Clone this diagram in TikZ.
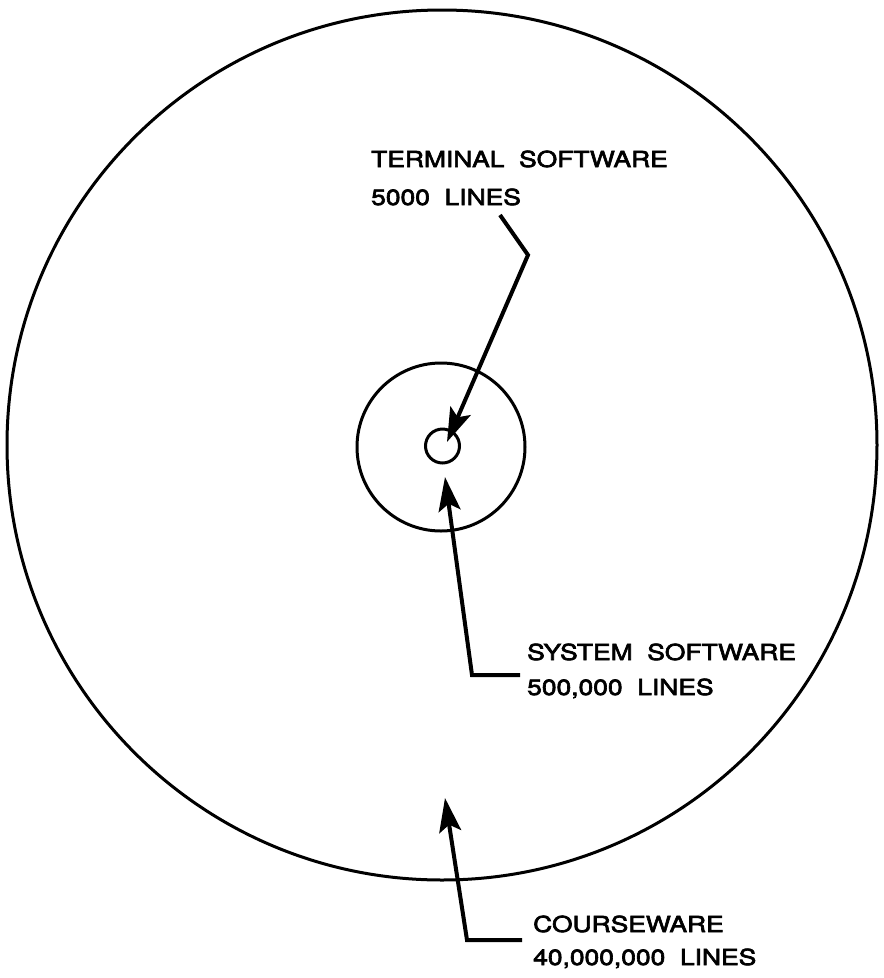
\documentclass[tikz,border=0pt]{standalone}
\usepackage{fontspec}
\setmainfont{TeX Gyre Heros}[FakeStretch=1.2, FakeBold=3]
\usetikzlibrary{arrows.meta}
\tikzset{
  ring/.style={draw, circle, line width=3pt, inner sep=0pt},
  lbl/.style={anchor=base west, inner sep=0pt, font=\fontsize{22}{26}\selectfont},
  pointer/.style={line width=4pt, line join=miter, -{Stealth[length=34pt, width=22pt, inset=7pt]}}
}
\begin{document}
\begin{tikzpicture}[x=1pt, y=-1pt]
\useasboundingbox (0,0) rectangle (884,978);
\node[ring, minimum size=870pt] (outer) at (442,445) {};
\node[ring, minimum size=168pt] (middle) at (441,447) {};
\node[ring, minimum size=34pt] (inner) at (442.5,446) {};
\node[lbl] (t1) at (371,167) {TERMINAL\ \ SOFTWARE};
\node[lbl] (t2) at (371,205) {5000\ \ LINES};
\node[lbl] (s1) at (527,660) {SYSTEM\ \ SOFTWARE};
\node[lbl] (s2) at (527,695) {500,000\ \ LINES};
\node[lbl] (c1) at (533,932) {COURSEWARE};
\node[lbl] (c2) at (533,965) {40,000,000\ \ LINES};
\coordinate (tstart) at (500,215);
\coordinate (tbend) at (528,255);
\coordinate (ttip) at (447,442);
\coordinate (sstart) at (520,675);
\coordinate (sbend) at (472,675);
\coordinate (stip) at (445,477);
\coordinate (cstart) at (522,940);
\coordinate (cbend) at (467,940);
\coordinate (ctip) at (445,798);
\draw[pointer] (tstart) -- (tbend) -- (ttip);
\draw[pointer] (sstart) -- (sbend) -- (stip);
\draw[pointer] (cstart) -- (cbend) -- (ctip);
\end{tikzpicture}
\end{document}
